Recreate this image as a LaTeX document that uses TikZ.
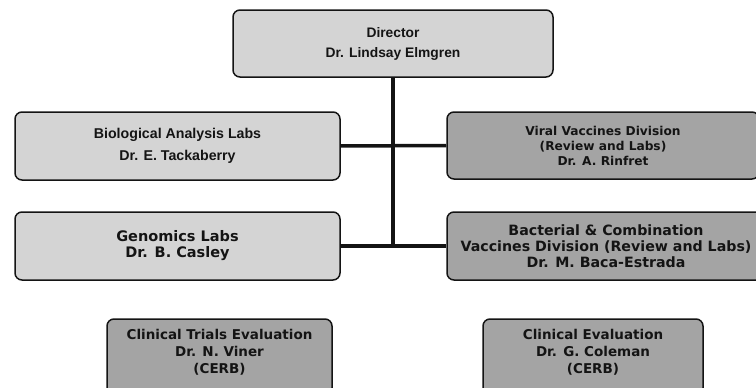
\documentclass[tikz,border=0pt]{standalone}
\usepackage{fontspec}
\setmainfont{Liberation Sans}
\newfontfamily\tahomalike{DejaVu Sans}
\definecolor{lightfill}{RGB}{212,212,212}
\definecolor{darkfill}{RGB}{164,164,164}
\definecolor{inkblack}{RGB}{20,20,20}
\begin{document}
\begin{tikzpicture}[x=1pt,y=-1pt,
  orgbox/.style={draw=inkblack, line width=1.5pt, rounded corners=7pt,
    align=center, text=inkblack, inner sep=0pt},
  lightbox/.style={orgbox, fill=lightfill},
  darkbox/.style={orgbox, fill=darkfill},
  boxtext/.style={align=center, text=inkblack, inner sep=0pt},
  link/.style={draw=inkblack, line width=3.5pt}]
\useasboundingbox (0,0) rectangle (756,388);
\clip (0,0) rectangle (756,388);

% upper level
\node[lightbox, minimum width=320, minimum height=67,
  font=\fontsize{13.8}{20}\selectfont\bfseries] (dir) at (393,43.5)
  {Director\\Dr. Lindsay Elmgren};

% labs on the left
\node[lightbox, minimum width=325, minimum height=68,
  font=\fontsize{14.2}{22}\selectfont\bfseries] (bio) at (177.5,146)
  {Biological Analysis Labs\\Dr. E. Tackaberry};
\node[lightbox, minimum width=325, minimum height=68,
  font=\tahomalike\fontsize{14.5}{16}\selectfont\bfseries] (gen) at (177.5,246)
  {Genomics Labs\\Dr. B. Casley};

% divisions on the right
\node[darkbox, minimum width=312, minimum height=67,
  font=\tahomalike\fontsize{12.2}{15}\selectfont\bfseries] (vir) at (603,145.5)
  {Viral Vaccines Division\\(Review and Labs)\\Dr. A. Rinfret};
\node[darkbox, minimum width=318, minimum height=68,
  font=\tahomalike\fontsize{14.2}{16}\selectfont\bfseries] (bac) at (606,246)
  {Bacterial \& Combination\\Vaccines Division (Review and Labs)\\Dr. M. Baca-Estrada};

% CERB units at the bottom
\node[darkbox, minimum width=225, minimum height=76] (cte) at (219.5,357) {};
\node[boxtext, font=\tahomalike\fontsize{13.5}{17}\selectfont\bfseries] (cteText) at (219.5,352)
  {Clinical Trials Evaluation\\Dr. N. Viner\\(CERB)};
\node[darkbox, minimum width=220, minimum height=76] (ce) at (593,357) {};
\node[boxtext, font=\tahomalike\fontsize{13.5}{17}\selectfont\bfseries] (ceText) at (593,352)
  {Clinical Evaluation\\Dr. G. Coleman\\(CERB)};

% reporting lines
\coordinate (trunk) at (dir.south |- gen.east);
\draw[link] (dir.south) -- (trunk);
\draw[link] (bio.east) -- (vir.west);
\draw[link] (gen.east) -- (bac.west);
\end{tikzpicture}
\end{document}
